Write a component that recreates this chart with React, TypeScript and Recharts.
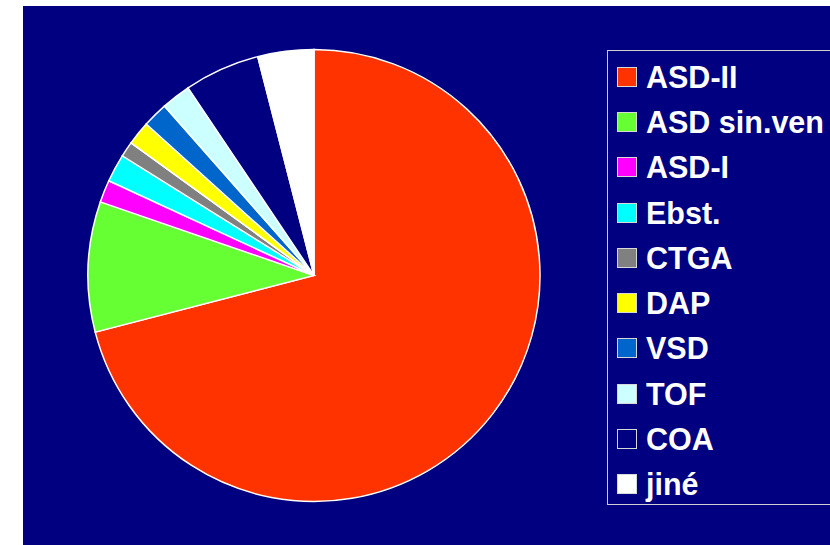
import React from "react";
import { PieChart, Pie, Cell, Legend } from "recharts";

const categories = ["ASD-II", "ASD sin.ven", "ASD-I", "Ebst.", "CTGA", "DAP", "VSD", "TOF", "COA", "jiné"];
const values = [70.9, 9.3, 1.6, 2.0, 1.1, 1.7, 1.8, 2.1, 5.4, 4.0];
const colors = ["#FF3300", "#66FF33", "#FF00FF", "#00FFFF", "#808080", "#FFFF00", "#0066CC", "#CCFFFF", "#000080", "#FFFFFF"];

const data = categories.map((name, i) => ({ name, value: values[i] }));

const FONT = "Arial, 'Liberation Sans', sans-serif";

function LegendBox() {
  return (
    <div
      style={{
        width: 250,
        height: 455,
        border: "1px solid #d0d0d0",
        boxSizing: "border-box",
        paddingTop: 3,
        fontFamily: FONT,
      }}
    >
      {categories.map((name, i) => (
        <div key={name} style={{ display: "flex", alignItems: "center", height: 45.3 }}>
          <div
            style={{
              width: 20,
              height: 20,
              marginLeft: 9,
              marginRight: 9,
              boxSizing: "border-box",
              border: "1px solid #d8d8d8",
              background: colors[i],
            }}
          />
          <span style={{ color: "#fff", fontWeight: "bold", fontSize: 30.5, lineHeight: "30px" }}>{name}</span>
        </div>
      ))}
    </div>
  );
}

export default function App() {
  return (
    <div style={{ position: "absolute", left: 0, top: 0, width: 830, height: 545, background: "#fff", overflow: "hidden" }}>
      <div style={{ position: "absolute", left: 23, top: 6, width: 807, height: 539, overflow: "hidden" }}>
        <PieChart width={807} height={539} style={{ background: "#000080" }}>
          <Pie
            data={data}
            dataKey="value"
            nameKey="name"
            cx={286}
            cy={264.5}
            outerRadius={226}
            startAngle={90}
            endAngle={-270}
            stroke="#fff"
            strokeWidth={1.5}
            isAnimationActive={false}
          >
            {data.map((d, i) => (
              <Cell key={d.name} fill={colors[i]} />
            ))}
          </Pie>
          <Legend
            content={() => <LegendBox />}
            wrapperStyle={{ left: 584, top: 44, width: 250, height: 455 }}
          />
        </PieChart>
      </div>
    </div>
  );
}
